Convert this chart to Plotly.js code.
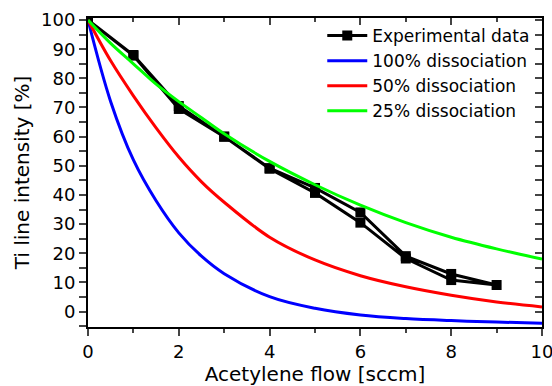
<!DOCTYPE html>
<html>
<head>
<meta charset="utf-8">
<script src="https://cdn.plot.ly/plotly-3.0.1.min.js"></script>
<style>html,body{margin:0;padding:0;background:#fff;}#chart{width:552px;height:386px;}</style>
</head>
<body>
<div id="chart"></div>
<script>
// Experimental data: increasing flow then decreasing flow (hysteresis loop)
const expFlow = [0, 1, 2, 3, 4, 5, 6, 7, 8, 9, 8, 7, 6, 5, 4, 3, 2, 1, 0];
const expIntensity = [100, 87.8, 69.5, 60, 49.2, 42.4, 34, 19, 12.9, 9.1, 10.8, 18.2, 30.5, 40.7, 49, 60, 70.5, 88, 100];

// Model curves
const curveFlow = [0, 0.5, 1, 1.5, 2, 2.5, 3, 4, 5, 6, 7, 8, 9, 10];
const diss100 = [100, 72, 52, 38, 27, 19, 13, 5.1, 1.1, -1.2, -2.4, -3.1, -3.6, -4.0];
const diss50 = [100, 86, 74, 63, 53, 44.5, 37.5, 25.5, 17.7, 12.3, 8.5, 5.6, 3.3, 1.6];
const diss25 = [100, 92, 85, 78, 72, 66.5, 61, 51.5, 43.5, 36.5, 30.5, 25.5, 21.5, 18];

const names = ["Experimental data", "100% dissociation", "50% dissociation", "25% dissociation"];
const xTitle = "Acetylene flow [sccm]";
const yTitle = "Ti line intensity [%]";

const xRange = [0, 10];
const yRange = [-5.3, 100.7];

const traces = [
  {x: expFlow, y: expIntensity, name: names[0], mode: "lines+markers",
   line: {color: "#000", width: 3}, marker: {symbol: "square", size: 10, color: "#000"}},
  {x: curveFlow, y: diss100, name: names[1], mode: "lines",
   line: {color: "#0000ff", width: 3, shape: "spline"}},
  {x: curveFlow, y: diss50, name: names[2], mode: "lines",
   line: {color: "#ff0000", width: 3, shape: "spline"}},
  {x: curveFlow, y: diss25, name: names[3], mode: "lines",
   line: {color: "#00ff00", width: 3, shape: "spline"}},
  {x: [], y: [], xaxis: "x2", yaxis: "y2", showlegend: false, hoverinfo: "skip"}
];

const font = {family: "DejaVu Sans, Liberation Sans, Arial, sans-serif", color: "#000"};

const layout = {
  width: 552, height: 386,
  margin: {l: 88, r: 10, t: 18, b: 59},
  paper_bgcolor: "#fff", plot_bgcolor: "#fff",
  font: Object.assign({size: 17}, font),
  showlegend: true,
  legend: {x: 0.516, y: 1.0, xanchor: "left", yanchor: "top",
           font: Object.assign({size: 17}, font), bgcolor: "rgba(0,0,0,0)",
           tracegroupgap: 0, itemwidth: 40},
  xaxis: {range: xRange, dtick: 2, tick0: 0, ticks: "outside", ticklen: 7, tickwidth: 2,
          showline: true, linewidth: 2, linecolor: "#000", showgrid: false, zeroline: false,
          tickfont: Object.assign({size: 18}, font), ticklabeloverflow: "allow",
          minor: {dtick: 1, ticks: "outside", ticklen: 4, tickwidth: 2, showgrid: false},
          title: {text: xTitle, font: Object.assign({size: 20}, font), standoff: 6}},
  yaxis: {range: yRange, dtick: 10, tick0: 0, ticks: "outside", ticklen: 7, tickwidth: 2,
          showline: true, linewidth: 2, linecolor: "#000", showgrid: false, zeroline: false,
          tickfont: Object.assign({size: 18}, font),
          minor: {dtick: 5, tick0: 0, ticks: "outside", ticklen: 7, tickwidth: 2, showgrid: false},
          title: {text: yTitle, font: Object.assign({size: 20}, font), standoff: 6}},
  xaxis2: {range: xRange, overlaying: "x", side: "top", anchor: "y2", dtick: 2, tick0: 0,
           ticks: "inside", ticklen: 7, tickwidth: 2, showticklabels: false,
           showline: true, linewidth: 2, linecolor: "#000", showgrid: false, zeroline: false,
           minor: {dtick: 1, ticks: "inside", ticklen: 4, tickwidth: 2, showgrid: false}},
  yaxis2: {range: yRange, overlaying: "y", side: "right", anchor: "x2", dtick: 10, tick0: 0,
           ticks: "inside", ticklen: 7, tickwidth: 2, showticklabels: false,
           showline: true, linewidth: 2, linecolor: "#000", showgrid: false, zeroline: false,
           minor: {dtick: 5, tick0: 0, ticks: "inside", ticklen: 7, tickwidth: 2, showgrid: false}}
};

Plotly.newPlot("chart", traces, layout, {staticPlot: true, displayModeBar: false});
</script>
</body>
</html>
